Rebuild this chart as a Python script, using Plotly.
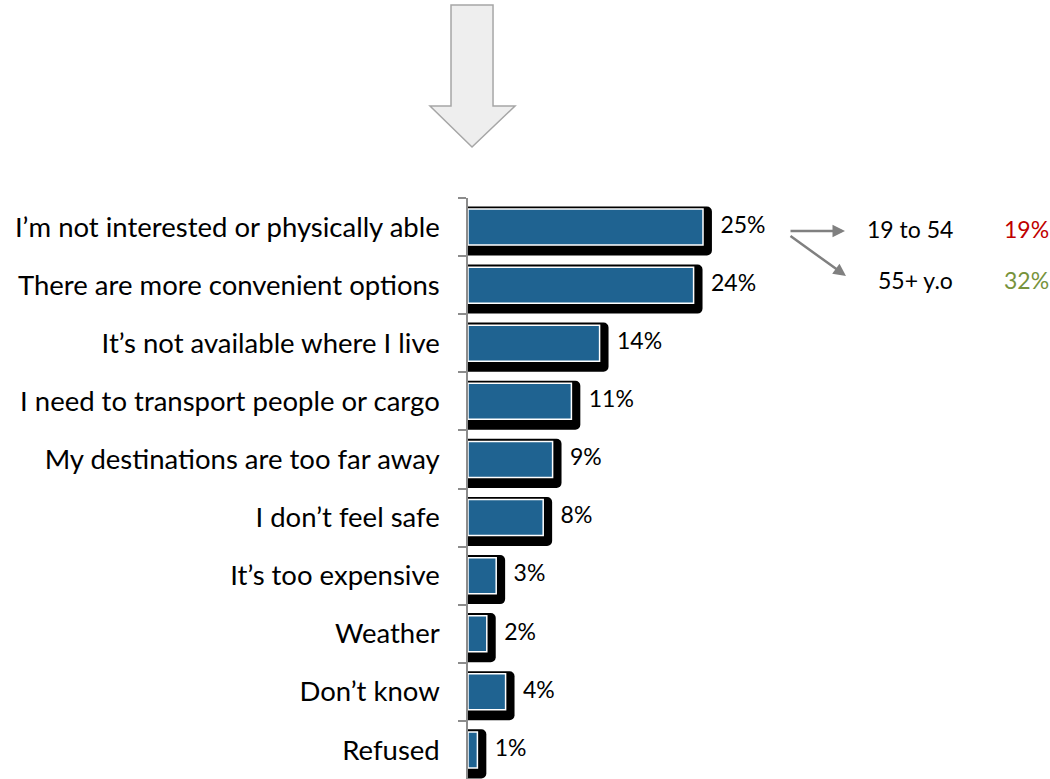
import plotly.graph_objects as go

categories = [
    "I’m not interested or physically able",
    "There are more convenient options",
    "It’s not available where I live",
    "I need to transport people or cargo",
    "My destinations are too far away",
    "I don’t feel safe",
    "It’s too expensive",
    "Weather",
    "Don’t know",
    "Refused",
]
values = [25, 24, 14, 11, 9, 8, 3, 2, 4, 1]
value_labels = [f"{v}%" for v in values]
age_groups = ["19 to 54", "55+ y.o"]
age_values = ["19%", "32%"]
age_colors = ["#C00000", "#77933C"]

FONT = "Lato"
W, H = 1050, 779
ML, MR, MT, MB = 468, 0, 198, 0
PW, PH = W - ML - MR, H - MT - MB
XMAX = PW / 9.4

def px(x):
    return (x - ML) / PW

def py(y):
    return (H - MB - y) / PH

BAR_W = 0.62
SH_W = 0.845
SH_OFF = -0.355
SH_DX = 0.95

fig = go.Figure()
fig.add_trace(go.Bar(
    y=categories, x=[v + SH_DX for v in values], orientation="h",
    width=SH_W, offset=SH_OFF,
    marker=dict(color="#000000", line=dict(width=0), cornerradius=5),
    hoverinfo="skip", showlegend=False,
))
fig.add_trace(go.Bar(
    y=categories, x=values, orientation="h",
    width=BAR_W, offset=-BAR_W / 2,
    marker=dict(color="#1F6391", line=dict(color="#FFFFFF", width=1.5)),
    showlegend=False,
))
fig.add_trace(go.Scatter(
    y=categories, x=[v + SH_DX + 0.9 for v in values], mode="text",
    text=value_labels, textposition="middle right",
    textfont=dict(family=FONT, size=23, color="#000000"),
    hoverinfo="skip", showlegend=False,
))

# decorative big down arrow at top
pts = [(451, 5), (493, 5), (493, 106), (515, 106), (472, 147), (430, 106), (451, 106)]
path = "M " + " L ".join(f"{px(x):.4f},{py(y):.4f}" for x, y in pts) + " Z"
fig.add_shape(type="path", xref="paper", yref="paper", path=path,
              fillcolor="#EEEEEE", line=dict(color="#A6A6A6", width=1.5))

# right-side breakdown arrows
arrows = [((845, 231), (789, 231)), ((846, 276), (789, 235))]
for (tx, ty), (sx, sy) in arrows:
    fig.add_annotation(xref="paper", yref="paper", x=px(tx), y=py(ty),
                       ax=sx - tx, ay=sy - ty, axref="pixel", ayref="pixel",
                       showarrow=True, arrowhead=2, arrowsize=1, arrowwidth=2.5,
                       arrowcolor="#808080", text="")
label_pos = [(955, 229), (955, 280)]
for (lx, ly), g, v, c in zip(label_pos, age_groups, age_values, age_colors):
    fig.add_annotation(xref="paper", yref="paper", x=px(lx), y=py(ly), text=g,
                       showarrow=False, xanchor="right", yanchor="middle",
                       font=dict(family=FONT, size=23, color="#000000"))
    fig.add_annotation(xref="paper", yref="paper", x=px(1002), y=py(ly), text=v,
                       showarrow=False, xanchor="left", yanchor="middle",
                       font=dict(family=FONT, size=23, color=c))

fig.update_layout(
    width=W, height=H, margin=dict(l=ML, r=MR, t=MT, b=MB),
    barmode="overlay", plot_bgcolor="white", paper_bgcolor="white",
    xaxis=dict(range=[0, XMAX], visible=False, fixedrange=True),
    yaxis=dict(type="category", autorange="reversed", showline=True,
               linecolor="#8C8C8C", linewidth=1.5, ticks="outside",
               tickson="boundaries", ticklen=8, tickcolor="#8C8C8C",
               tickwidth=1.5, showgrid=False, ticklabelstandoff=21,
               tickfont=dict(family=FONT, size=27.5, color="#000000")),
)
fig.write_html("out.html", post_script="document.body.style.margin='0';",
               config={"displayModeBar": False})
